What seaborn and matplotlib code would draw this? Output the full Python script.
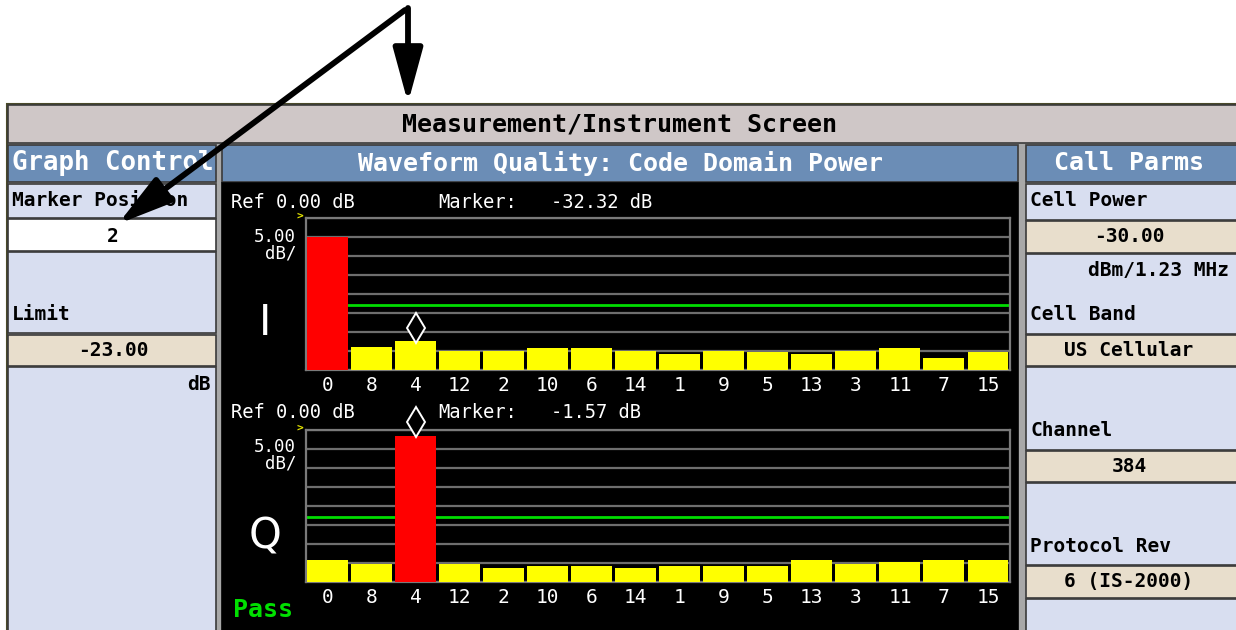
import numpy as np
import pandas as pd
import matplotlib
matplotlib.use("Agg")
import matplotlib.pyplot as plt
from matplotlib.patches import Rectangle, FancyArrowPatch
import seaborn as sns

# ---- data ----
codes = ['0', '8', '4', '12', '2', '10', '6', '14', '1', '9', '5', '13', '3', '11', '7', '15']
i_power = [-4.9, -33.9, -32.32, -34.9, -34.9, -34.3, -34.3, -34.9,
           -35.8, -34.9, -35.3, -35.8, -34.9, -34.3, -36.8, -35.3]
q_power = [-34.3, -35.2, -1.57, -35.2, -36.2, -35.8, -35.8, -36.2,
           -35.8, -35.8, -35.8, -34.3, -35.2, -34.8, -34.3, -34.3]
i_peak = '0'
q_peak = '4'
marker_code = '4'
limit_db = -23.0
ref_db = 0.0
db_per_div = 5.0
n_div = 8

left_rows = ['Marker Position', '2', 'Limit', '-23.00', 'dB']
right_rows = ['Cell Power', '-30.00', 'dBm/1.23 MHz', 'Cell Band', 'US Cellular',
              'Channel', '384', 'Protocol Rev', '6 (IS-2000)']

W, H = 1236, 630
floor_db = ref_db - db_per_div * n_div

BLUE = '#6B8DB6'
LIGHT = '#D8DEF0'
BEIGE = '#E8DECC'
TITLE = '#CFC7C7'
EDGE = '#3A3A3A'
MONO = 'DejaVu Sans Mono'

fig = plt.figure(figsize=(W / 100, H / 100), dpi=100)
bg = fig.add_axes([0, 0, 1, 1])
bg.set_xlim(0, W)
bg.set_ylim(H, 0)
bg.axis('off')


def box(x0, y0, x1, y1, color, ec=EDGE, lw=1.2, z=1):
    r = Rectangle((x0, y0), x1 - x0, y1 - y0, facecolor=color, edgecolor=ec, lw=lw, zorder=z)
    bg.add_patch(r)
    return r


def label(x, y, s, ha='left', size=14, color='black', weight='bold', clip=None, family=MONO, **kw):
    t = bg.text(x, y, s, ha=ha, va='center', fontsize=size, color=color,
                fontweight=weight, family=family, zorder=5, **kw)
    if clip is not None:
        t.set_clip_path(clip)
    return t


# screen frame
box(7, 104, W + 2, H + 2, '#A8A8A8', ec='#4A4A2A', lw=1.5, z=0)
box(8, 105, W + 2, 143, TITLE)
label(620, 125, 'Measurement/Instrument Screen', ha='center', size=18)

# left panel
hdr = box(8, 145, 216, 182, BLUE)
label(12, 163, 'Graph Control', size=18.5, color='white', clip=hdr)
box(8, 184, 216, 218, LIGHT)
label(12, 200, left_rows[0])
box(8, 219, 216, 251, 'white')
label(113, 236, left_rows[1], ha='center')
box(8, 252, 216, 333, LIGHT)
label(12, 315, left_rows[2])
box(8, 335, 216, 366, BEIGE)
label(113, 350, left_rows[3], ha='center')
box(8, 367, 216, H + 2, LIGHT)
label(211, 385, left_rows[4], ha='right')

# center panel
box(222, 145, 1018, 182, BLUE)
label(620, 163, 'Waveform Quality: Code Domain Power', ha='center', size=18, color='white')
box(222, 183, 1018, H + 2, 'black', ec='black')

# right panel
box(1026, 145, W + 2, 182, BLUE)
label(1129, 163, 'Call Parms', ha='center', size=18, color='white')
box(1026, 184, W + 2, 220, LIGHT)
label(1030, 200, right_rows[0])
box(1026, 221, W + 2, 253, BEIGE)
label(1129, 237, right_rows[1], ha='center')
box(1026, 254, W + 2, 334, LIGHT)
label(1229, 271, right_rows[2], ha='right')
label(1030, 315, right_rows[3])
box(1026, 335, W + 2, 366, BEIGE)
label(1129, 350, right_rows[4], ha='center')
box(1026, 367, W + 2, 450, LIGHT)
label(1030, 431, right_rows[5])
box(1026, 451, W + 2, 482, BEIGE)
label(1129, 466, right_rows[6], ha='center')
box(1026, 483, W + 2, 565, LIGHT)
label(1030, 546, right_rows[7])
box(1026, 566, W + 2, 598, BEIGE)
label(1129, 581, right_rows[8], ha='center')
box(1026, 599, W + 2, H + 2, LIGHT)


def code_chart(y0, y1, power, peak, mark_off):
    ax = fig.add_axes([305.5 / W, 1 - y1 / H, (1010 - 305.5) / W, (y1 - y0) / H])
    df = pd.DataFrame({'code': codes, 'db': power})
    df['height'] = df['db'] - floor_db
    pal = {c: ('#FF0000' if c == peak else '#FFFF00') for c in codes}
    sns.barplot(data=df, x='code', y='height', hue='code', order=codes, palette=pal,
                saturation=1, width=0.93, errorbar=None, legend=False, ax=ax, zorder=3)
    ax.set_facecolor('black')
    ax.set_xlim(-0.5, len(codes) - 0.5)
    ax.set_ylim(0, db_per_div * n_div)
    ax.set_yticks(np.arange(0, db_per_div * n_div + 1, db_per_div))
    ax.yaxis.grid(True, color='#6E6E6E', lw=1.6, zorder=1)
    ax.set_axisbelow(True)
    ax.tick_params(axis='y', length=0, labelleft=False)
    ax.tick_params(axis='x', length=0, pad=4, labelcolor='white', labelsize=14)
    for t in ax.get_xticklabels():
        t.set_family(MONO)
    for s in ax.spines.values():
        s.set_color('#7A7A7A')
        s.set_linewidth(1.6)
    ax.set_xlabel('')
    ax.set_ylabel('')
    ax.axhline(limit_db - floor_db, color='#00DD00', lw=2, zorder=2)
    # marker diamond
    mi = codes.index(marker_code)
    top = power[mi] - floor_db
    ax.plot([mi, mi], [top, top + mark_off + 3.0], color='white', lw=1.3, clip_on=False, zorder=6)
    ax.plot(mi, top + mark_off, marker='d', ms=15, mfc='black', mec='white', mew=1.4,
            clip_on=False, zorder=7)
    return ax


code_chart(218, 370, i_power, i_peak, 3.3)
code_chart(430, 582, q_power, q_peak, 3.7)

# chart annotations
for yr, ytop, mval in [(203, 218, '-32.32 dB'), (413, 430, '-1.57 dB')]:
    label(231, yr, 'Ref 0.00 dB', size=13.5, color='white', weight='normal')
    label(438, yr, 'Marker:', size=13.5, color='white', weight='normal')
    label(551, yr, mval, size=13.5, color='white', weight='normal')
    label(296, yr + 34, '5.00', ha='right', size=12.5, color='white', weight='normal')
    label(296, yr + 51, 'dB/', ha='right', size=12.5, color='white', weight='normal')
    label(300, ytop - 2, '>', ha='center', size=8, color='#E8E800')
label(265, 323, 'I', ha='center', size=30, color='white', weight='normal', family='DejaVu Sans')
label(265, 536, 'Q', ha='center', size=30, color='white', weight='normal', family='DejaVu Sans')
label(233, 610, 'Pass', size=18, color='#00E000')

# pointer arrows
style = '-|>,head_length=3.3,head_width=0.9'
bg.add_patch(FancyArrowPatch((408, 8), (408, 103), arrowstyle=style, mutation_scale=10,
                             lw=4.2, color='black', shrinkA=0, shrinkB=0, zorder=20))
bg.add_patch(FancyArrowPatch((405, 10), (118, 224), arrowstyle=style, mutation_scale=10,
                             lw=4.2, color='black', shrinkA=0, shrinkB=0, zorder=20))

fig.savefig('out.png', dpi=100, facecolor='white')
